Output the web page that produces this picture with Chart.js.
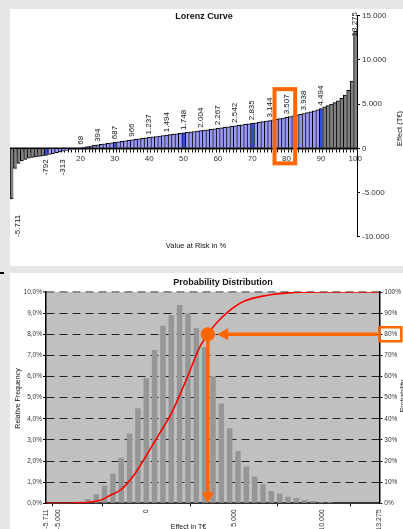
<!DOCTYPE html>
<html>
<head>
<meta charset="utf-8">
<script src="https://cdn.jsdelivr.net/npm/chart.js@4.4.0/dist/chart.umd.min.js"></script>
<style>
  html, body { margin: 0; padding: 0; background: #e6e6e6; }
  body { width: 403px; height: 529px; position: relative; overflow: hidden; }
  canvas { position: absolute; background: #fff; }
  #lorenz { left: 10px; top: 9px; }
  #dist { left: 10px; top: 273px; }
  #mark { position: absolute; left: 0; top: 272px; width: 4px; height: 2px; background: #000; }
</style>
</head>
<body>
<canvas id="lorenz" width="393" height="257"></canvas>
<canvas id="dist" width="393" height="256"></canvas>
<div id="mark"></div>
<script>
const FONT = '"Liberation Sans", Arial, sans-serif';
const ORANGE = '#ff6600';

// Lorenz curve, one bar per percentile 0..100 (T€)
const lorenzValues = [
  -5711, -2270, -1710, -1420, -1240, -1120, -1030, -960, -905, -860,
  -792, -690, -592, -497, -404, -313, -232, -152, -76, -3,
  68, 134, 199, 264, 330, 394, 453, 512, 571, 629,
  687, 743, 799, 855, 911, 966, 1020, 1075, 1129, 1183,
  1237, 1289, 1340, 1391, 1443, 1494, 1545, 1596, 1647, 1697,
  1748, 1799, 1850, 1901, 1953, 2004, 2056, 2108, 2161, 2214,
  2267, 2321, 2376, 2431, 2486, 2542, 2600, 2658, 2717, 2776,
  2835, 2896, 2957, 3019, 3081, 3144, 3214, 3285, 3358, 3432,
  3507, 3589, 3673, 3759, 3847, 3938, 4040, 4146, 4255, 4370,
  4494, 4700, 4850, 5000, 5180, 5370, 5670, 6040, 6570, 7610,
  13275
];
const lorenzPercentiles = lorenzValues.map((_, i) => i);
const lorenzLabelled = [0, 10, 15, 20, 25, 30, 35, 40, 45, 50, 55, 60, 65, 70, 75, 80, 85, 90, 100];
const lorenzHighlight = [10, 30, 50, 70, 90];
const lorenzTicksY = [-10000, -5000, 0, 5000, 10000, 15000];
const varPercentile = 80;

// Probability distribution: histogram (%) and cumulative curve (%)
const binCenters = [
  -3800, -3325, -2850, -2375, -1900, -1425, -950, -475, 0, 475,
  950, 1425, 1900, 2375, 2850, 3325, 3800, 4275, 4750, 5225,
  5700, 6175, 6650, 7125, 7600, 8075, 8550, 9025, 9500, 9975, 10450
];
const binFreq = [
  0.08, 0.2, 0.43, 0.83, 1.4, 2.16, 3.3, 4.5, 5.92, 7.26,
  8.4, 8.9, 9.38, 9.0, 8.3, 7.4, 6.0, 4.72, 3.55, 2.48,
  1.74, 1.26, 0.9, 0.58, 0.46, 0.31, 0.25, 0.16, 0.11, 0.06, 0.06
];
const cumValues = [-5711, -4340, -3770, -3190, -2620, -2050, -1480, -1090, -730, -330,
  240, 810, 1380, 1840, 2360, 2990, 3507, 3960, 4640, 5560, 6930, 8080, 9960, 13275];
const cumProb = [0, 0, 0.2, 0.6, 1.4, 3.8, 6.2, 9.3, 13, 18,
  25.9, 33.8, 41.7, 50, 60, 73, 80, 85, 90.5, 95.6, 98.5, 99.6, 100, 100];
const distTicksX = [-5711, -5000, 0, 5000, 10000, 13275];
const freqTicks = [0, 1, 2, 3, 4, 5, 6, 7, 8, 9, 10];
const cumTicks = [0, 10, 20, 30, 40, 50, 60, 70, 80, 90, 100];
const varValue = 3507;
const varLevel = 80;

function fmt(v) {
  const s = Math.abs(Math.round(v)).toString().replace(/\B(?=(\d{3})+(?!\d))/g, '.');
  return (v < 0 ? '-' : '') + s;
}

function text(ctx, str, x, y, font, rot, align) {
  ctx.save();
  ctx.font = font;
  ctx.fillStyle = '#111';
  ctx.textAlign = align || 'center';
  ctx.textBaseline = 'middle';
  ctx.translate(x, y);
  if (rot) ctx.rotate(rot);
  ctx.fillText(str, 0, 0);
  ctx.restore();
}

const lorenzDecor = {
  id: 'lorenzDecor',
  afterDatasetsDraw(chart) {
    const {ctx, chartArea: area, scales: {x, y}} = chart;
    const meta = chart.getDatasetMeta(0);
    const zero = y.getPixelForValue(0);

    ctx.save();
    ctx.strokeStyle = '#000';
    ctx.lineWidth = 1.5;
    ctx.beginPath();
    ctx.moveTo(area.left, zero);
    ctx.lineTo(area.right, zero);
    ctx.stroke();

    // data labels
    ctx.font = '8px ' + FONT;
    ctx.fillStyle = '#111';
    ctx.textBaseline = 'middle';
    lorenzLabelled.forEach(i => {
      const bar = meta.data[i];
      const v = lorenzValues[i];
      const str = fmt(v);
      const w = ctx.measureText(str).width;
      ctx.save();
      if (v >= 0) {
        let y0 = bar.y - 3;
        if (y0 - w < 3) y0 = 3 + w;
        ctx.translate(bar.x, y0);
        ctx.rotate(-Math.PI / 2);
        ctx.textAlign = 'left';
      } else {
        const gap = bar.y - zero > 30 ? 16 : 3;
        const y0 = Math.max(bar.y, zero + 8) + gap;
        ctx.translate(bar.x + (gap > 3 ? 6 : 0), y0);
        ctx.rotate(-Math.PI / 2);
        ctx.textAlign = 'right';
      }
      ctx.fillText(str, 0, 0);
      ctx.restore();
    });

    // highlight around the 80% bar
    ctx.strokeStyle = ORANGE;
    ctx.lineWidth = 4;
    const bx1 = x.getPixelForValue(varPercentile - 3.5);
    const bx2 = x.getPixelForValue(varPercentile + 2.5);
    const by1 = y.getPixelForValue(6700);
    const by2 = y.getPixelForValue(-1700);
    ctx.strokeRect(bx1, by1, bx2 - bx1, by2 - by1);
    ctx.restore();
  },
  afterDraw(chart) {
    const ctx = chart.ctx;
    text(ctx, 'Lorenz Curve', 194, 8, 'bold 9px ' + FONT);
    text(ctx, 'Value at Risk in %', 186, 236.5, '7.5px ' + FONT);
    text(ctx, 'Effect (T€)', 390, 119.5, '7.5px ' + FONT, -Math.PI / 2);
  }
};

const distDecor = {
  id: 'distDecor',
  beforeDraw(chart) {
    const {ctx, chartArea: a} = chart;
    ctx.save();
    ctx.fillStyle = '#c0c0c0';
    ctx.fillRect(a.left, a.top, a.right - a.left, a.bottom - a.top);
    ctx.restore();
  },
  afterDraw(chart) {
    const {ctx, chartArea: area, scales: {x, y2}} = chart;
    const px = x.getPixelForValue(varValue);
    const py = y2.getPixelForValue(varLevel);
    const y0 = y2.getPixelForValue(0);

    ctx.save();
    ctx.strokeStyle = ORANGE;
    ctx.fillStyle = ORANGE;
    ctx.lineWidth = 3.5;
    // down arrow to the x axis
    ctx.beginPath();
    ctx.moveTo(px, py);
    ctx.lineTo(px, y0 - 10);
    ctx.stroke();
    ctx.beginPath();
    ctx.moveTo(px - 6, y0 - 11);
    ctx.lineTo(px + 6, y0 - 11);
    ctx.lineTo(px, y0);
    ctx.closePath();
    ctx.fill();
    // arrow from the 80% level
    const tip = px + 9.3;
    ctx.beginPath();
    ctx.moveTo(area.right - 2, py);
    ctx.lineTo(tip + 10, py);
    ctx.stroke();
    ctx.beginPath();
    ctx.moveTo(tip, py);
    ctx.lineTo(tip + 11, py - 6);
    ctx.lineTo(tip + 11, py + 6);
    ctx.closePath();
    ctx.fill();
    ctx.beginPath();
    ctx.arc(px, py, 7, 0, Math.PI * 2);
    ctx.fill();
    // box around the 80% tick label
    ctx.lineWidth = 2.5;
    ctx.strokeRect(area.right, py - 7, 22, 14);
    ctx.restore();

    text(ctx, 'Probability Distribution', 213, 10, 'bold 9px ' + FONT);
    text(ctx, 'Relative Frequency', 8, 125.5, '7px ' + FONT, -Math.PI / 2);
    text(ctx, 'Effect in T€', 178.5, 254, '7px ' + FONT);
    text(ctx, 'Probability', 393.5, 123, '7px ' + FONT, -Math.PI / 2);
  }
};

new Chart(document.getElementById('lorenz'), {
  type: 'bar',
  data: {
    datasets: [{
      data: lorenzPercentiles.map((p, i) => ({x: p, y: lorenzValues[i]})),
      backgroundColor: c => {
        const i = c.dataIndex;
        if (i < 10 || i > 90) return '#808080';
        return lorenzHighlight.includes(i) ? '#3050e0' : '#9999ff';
      },
      borderColor: '#000',
      borderWidth: {top: 1, bottom: 1, left: 1, right: 0},
      borderSkipped: 'start',
      categoryPercentage: 1,
      barPercentage: 1
    }]
  },
  options: {
    responsive: false,
    animation: false,
    devicePixelRatio: 1,
    layout: {padding: {top: 6, bottom: 29.3, left: 0, right: 0}},
    plugins: {legend: {display: false}, tooltip: {enabled: false}},
    scales: {
      x: {
        type: 'linear',
        position: {y: 0},
        min: -0.5,
        max: 100.5,
        offset: false,
        afterBuildTicks: s => { s.ticks = lorenzPercentiles.map(v => ({value: v})); },
        afterFit: s => { s.paddingLeft = 0; s.paddingRight = 0; },
        ticks: {
          autoSkip: false, maxRotation: 0, minRotation: 0, padding: 3,
          color: '#333', font: {family: FONT, size: 8},
          callback: v => (v % 10 === 0 && v !== 10) ? String(v) : ''
        },
        grid: {drawOnChartArea: false, drawTicks: true, tickLength: 3, color: '#000', lineWidth: 1},
        border: {color: '#000', width: 1.5}
      },
      y: {
        position: 'right',
        min: -10000,
        max: 15000,
        afterBuildTicks: s => { s.ticks = lorenzTicksY.map(v => ({value: v})); },
        afterFit: s => { s.width = 46; },
        ticks: {padding: 2, color: '#333', font: {family: FONT, size: 8}, callback: v => fmt(v)},
        grid: {drawOnChartArea: false, tickLength: 3, color: '#000'},
        border: {color: '#000', width: 1}
      }
    }
  },
  plugins: [lorenzDecor]
});

new Chart(document.getElementById('dist'), {
  type: 'bar',
  data: {
    datasets: [{
      type: 'line',
      data: cumValues.map((v, i) => ({x: v, y: cumProb[i]})),
      yAxisID: 'y2',
      borderColor: '#ff0000',
      borderWidth: 1.6,
      pointRadius: 0,
      cubicInterpolationMode: 'monotone',
      fill: false,
      order: 0
    }, {
      type: 'bar',
      data: binCenters.map((v, i) => ({x: v, y: binFreq[i]})),
      yAxisID: 'y',
      backgroundColor: '#969696',
      borderWidth: 0,
      barPercentage: 0.66,
      categoryPercentage: 1,
      order: 1
    }]
  },
  options: {
    responsive: false,
    animation: false,
    devicePixelRatio: 1,
    layout: {padding: {top: 19, left: 0, right: 0, bottom: 0}},
    plugins: {legend: {display: false}, tooltip: {enabled: false}},
    scales: {
      x: {
        type: 'linear',
        position: 'bottom',
        min: -5711,
        max: 13275,
        offset: false,
        afterBuildTicks: s => { s.ticks = distTicksX.map(v => ({value: v})); },
        afterFit: s => { s.height = 25.7; s.paddingLeft = 0; s.paddingRight = 0; },
        ticks: {
          autoSkip: false, minRotation: 90, maxRotation: 90, padding: 3,
          color: '#333', font: {family: FONT, size: 7}, callback: v => fmt(v)
        },
        grid: {drawOnChartArea: false, tickLength: 3, color: '#000'},
        border: {color: '#333', width: 2}
      },
      y: {
        position: 'left',
        min: 0,
        max: 10,
        afterBuildTicks: s => { s.ticks = freqTicks.map(v => ({value: v})); },
        afterFit: s => { s.width = 36; },
        ticks: {
          padding: 1, color: '#333', font: {family: FONT, size: 6.5},
          callback: v => v.toFixed(1).replace('.', ',') + '%'
        },
        grid: {
          color: c => (c.tick && c.tick.value === 10) ? '#8a8a8a' : '#222',
          lineWidth: c => (c.tick && c.tick.value === 10) ? 2 : 1,
          tickLength: 3, tickColor: '#000', tickWidth: 1
        },
        border: {color: '#000', width: 1.5, dash: [8, 5]}
      },
      y2: {
        position: 'right',
        min: 0,
        max: 100,
        afterBuildTicks: s => { s.ticks = cumTicks.map(v => ({value: v})); },
        afterFit: s => { s.width = 23.7; },
        ticks: {padding: 2, color: '#333', font: {family: FONT, size: 6.5}, callback: v => v + '%'},
        grid: {drawOnChartArea: false, tickLength: 3, color: '#000'},
        border: {color: '#000', width: 1.5}
      }
    }
  },
  plugins: [distDecor]
});
</script>
</body>
</html>
